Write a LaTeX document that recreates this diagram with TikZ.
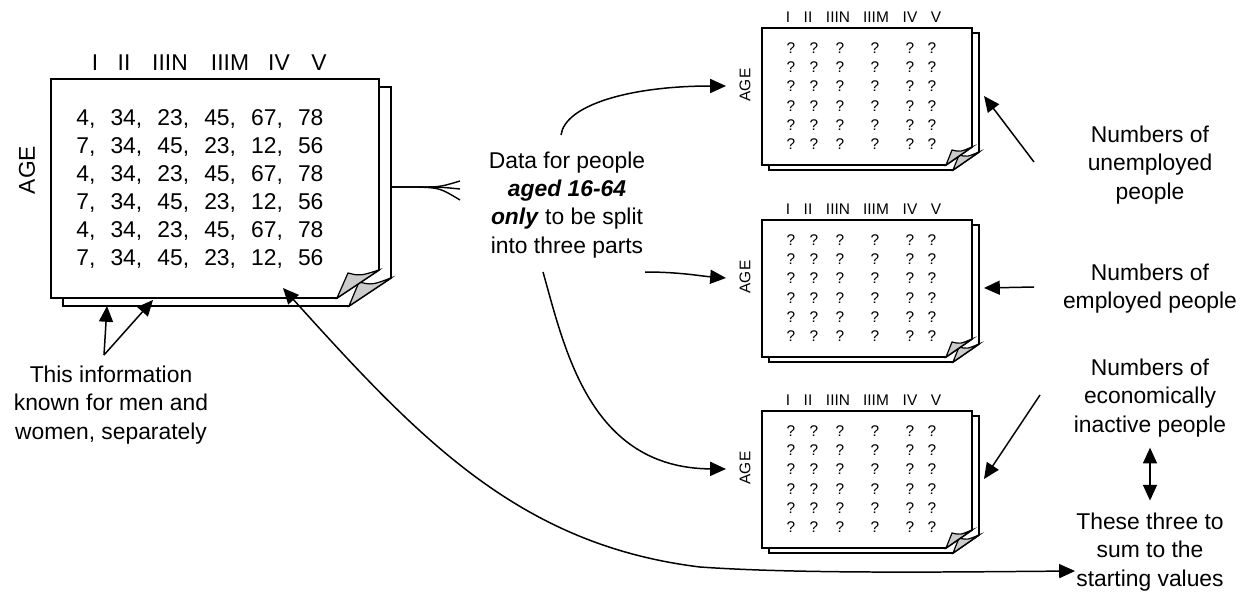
\documentclass[tikz,border=0pt]{standalone}
\usepackage{fontspec}
\setmainfont{Liberation Sans}
\usetikzlibrary{arrows.meta}

\begin{document}
\begin{tikzpicture}[x=0.02cm,y=-0.02cm,
  sheet/.style={draw,fill=white,line width=1pt,line join=miter},
  flap/.style={draw,fill=black!20,line width=0.7pt,line join=miter},
  ptr/.style={-{Triangle[length=9pt,width=8pt]},line width=0.85pt},
  big/.style={font=\fontsize{13}{16}\selectfont,inner sep=0pt},
  small/.style={font=\fontsize{8.8}{10}\selectfont,inner sep=0pt},
  note/.style={big,align=center}]
\useasboundingbox (0,0) rectangle (1254,592);

% big stack with the known values
\draw[sheet] (63,87) -- (391,87) -- (391,278) -- (349,306) -- (63,306) -- cycle;
\draw[flap] (349,306) -- (359,282) .. controls (372,285) .. (391,278) -- cycle;
\draw[sheet] (51,79) -- (379,79) -- (379,270) -- (337,298) -- (51,298) -- cycle;
\draw[flap] (337,298) -- (348,273) .. controls (360,276) .. (379,270) -- cycle;
\foreach \x/\h [count=\c] in {95/I,124/II,170/IIIN,230/IIIM,279/IV,319/V}
  \node[big] (h\c) at (\x,63) {\h};
\node[big,rotate=90] (age) at (27,170) {AGE};
\node[big,anchor=west,align=left] (vals) at (76,189) {%
4,\hspace{5pt} 34,\hspace{5pt} 23,\hspace{5pt} 45,\hspace{5pt} 67,\hspace{5pt} 78\\
7,\hspace{5pt} 34,\hspace{5pt} 45,\hspace{5pt} 23,\hspace{5pt} 12,\hspace{5pt} 56\\
4,\hspace{5pt} 34,\hspace{5pt} 23,\hspace{5pt} 45,\hspace{5pt} 67,\hspace{5pt} 78\\
7,\hspace{5pt} 34,\hspace{5pt} 45,\hspace{5pt} 23,\hspace{5pt} 12,\hspace{5pt} 56\\
4,\hspace{5pt} 34,\hspace{5pt} 23,\hspace{5pt} 45,\hspace{5pt} 67,\hspace{5pt} 78\\
7,\hspace{5pt} 34,\hspace{5pt} 45,\hspace{5pt} 23,\hspace{5pt} 12,\hspace{5pt} 56};
\coordinate (big-in) at (283,288);
\coordinate (fork) at (391,187);
\coordinate (b1) at (107,306);
\coordinate (b2) at (153,300);

% three stacks to be filled
\foreach \t [count=\n] in {28,220,411} {
  \begin{scope}[shift={(762,\t)}]
    \draw[sheet] (7,5) -- (217,5) -- (217,124) -- (191,142) -- (7,142) -- cycle;
    \draw[flap] (191,142) -- (197,127) .. controls (205,129) .. (217,124) -- cycle;
    \draw[sheet] (0,0) -- (210,0) -- (210,119) -- (184,137) -- (0,137) -- cycle;
    \draw[flap] (184,137) -- (190,122) .. controls (198,124) .. (210,119) -- cycle;
    \foreach \x/\h [count=\c] in {26/I,46/II,76/IIIN,114/IIIM,148/IV,174/V}
      \node[small] (d\n-h\c) at (\x,-11) {\h};
    \foreach \x [count=\c] in {29,52,78,113,148,170}
      \foreach \r in {0,...,5}
        \node[small] (d\n-q\r-\c) at (\x,{20+19.2*\r}) {?};
    \node[small,rotate=90] (d\n-age) at (-17,57) {AGE};
    \coordinate (d\n-in) at (-36,58);
    \coordinate (d\n-out) at (222,68);
  \end{scope}
}

% notes
\node[note] (split) at (567,205) {Data for people\\ \textbf{\textit{aged 16-64}}\\ \textbf{\textit{only}} to be split\\ into three parts};
\node[note] (info) at (111,405) {This information\\ known for men and\\ women, separately};
\node[note] (unemp) at (1150,165) {Numbers of\\ unemployed\\ people};
\node[note] (emp) at (1150,289) {Numbers of\\ employed people};
\node[note] (inact) at (1150,398) {Numbers of\\ economically\\ inactive people};
\node[note] (sum) at (1150,552) {These three to\\ sum to the\\ starting values};

\coordinate (split-up) at (561,135);
\coordinate (split-mid) at (645,272);
\coordinate (split-down) at (543,272);
\coordinate (info-tail) at (104,355);
\coordinate (u-tail) at (1034,162);
\coordinate (e-tail) at (1034,287);
\coordinate (i-tail) at (1040,395);
\coordinate (sum-in) at (1075,571);

% connectors
\draw[line width=0.8pt] (fork) -- (418,187) .. controls (440,187) .. (460,181);
\draw[line width=0.8pt] (fork) -- (418,187) .. controls (440,187) .. (460,189);
\draw[line width=0.8pt] (fork) -- (418,187) .. controls (440,188) .. (460,200);
\draw[ptr] (split-up) .. controls (565,105) and (630,86) .. (d1-in);
\draw[ptr] (split-mid) .. controls (680,272) and (700,276) .. (d2-in);
\draw[ptr] (split-down) .. controls (565,350) and (590,468) .. (d3-in);
\draw[ptr] (info-tail) -- (b1);
\draw[ptr] (info-tail) -- (b2);
\draw[ptr] (u-tail) -- (d1-out);
\draw[ptr] (e-tail) -- (d2-out);
\draw[ptr] (i-tail) -- (d3-out);
\draw[ptr,{Triangle[length=9pt,width=8pt]}-{Triangle[length=9pt,width=8pt]},
  shorten <=6pt,shorten >=7pt] (inact.south) -- (sum.north);
\draw[ptr,{Triangle[length=9pt,width=8pt]}-{Triangle[length=9pt,width=8pt]}]
  (big-in) .. controls (420,440) and (520,545) .. (700,567)
  .. controls (800,574) and (950,572) .. (sum-in);
\end{tikzpicture}
\end{document}
